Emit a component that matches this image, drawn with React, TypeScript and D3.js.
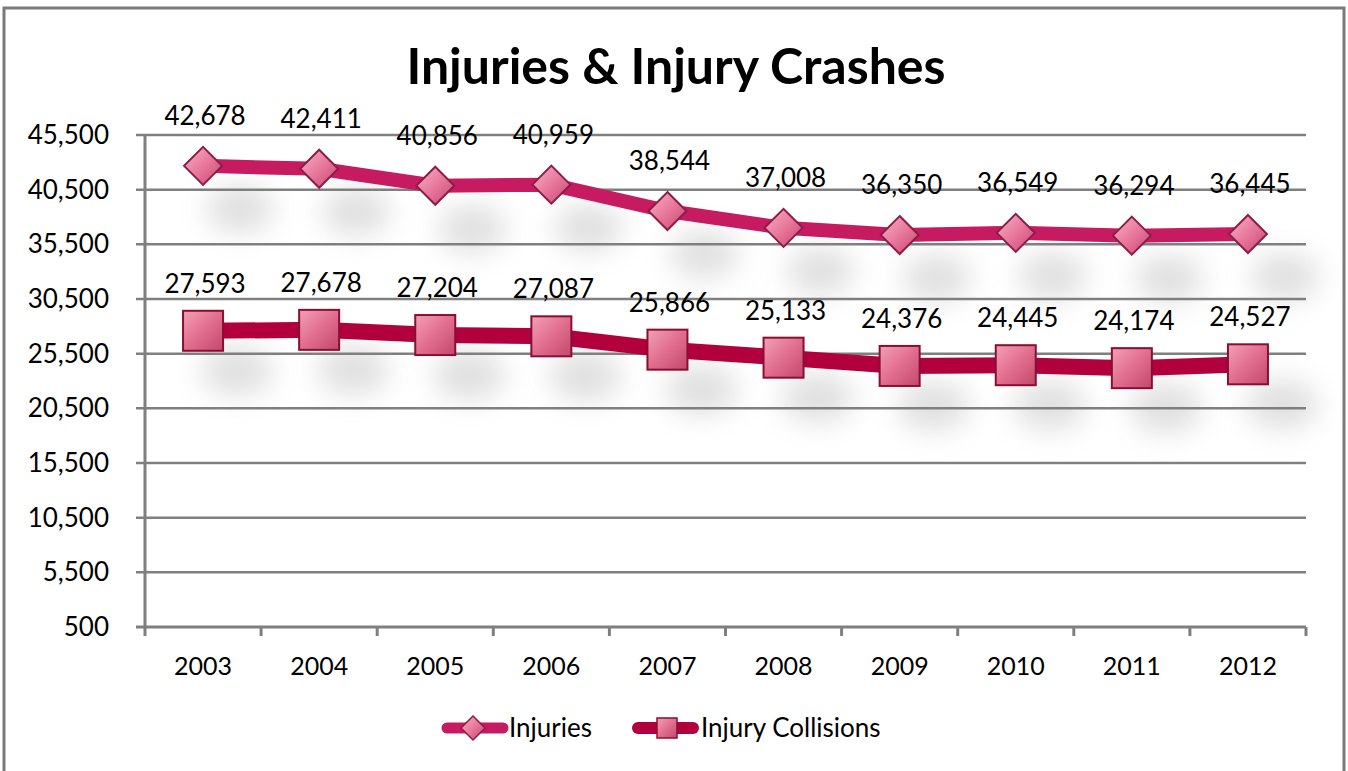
import React from "react";
import * as d3 from "d3";

const years = ["2003", "2004", "2005", "2006", "2007", "2008", "2009", "2010", "2011", "2012"];
const injuries = [42678, 42411, 40856, 40959, 38544, 37008, 36350, 36549, 36294, 36445];
const collisions = [27593, 27678, 27204, 27087, 25866, 25133, 24376, 24445, 24174, 24527];
const yTicks = [500, 5500, 10500, 15500, 20500, 25500, 30500, 35500, 40500, 45500];
const seriesNames = ["Injuries", "Injury Collisions"];

const W = 1348, H = 771;
const FONT = "Lato, 'Open Sans', sans-serif";

export default function App() {
  const x = d3.scaleBand().domain(years).range([145, 1306]);
  const y = d3.scaleLinear().domain([500, 45500]).range([627, 135]);
  const fmt = d3.format(",");
  const line = d3.line<number>().x((_, i) => x(years[i])! + x.bandwidth() / 2).y((d) => y(d));
  const cx = (i: number) => x(years[i])! + x.bandwidth() / 2;

  const diamond = (px: number, py: number, r: number) =>
    `M${px},${py - r}L${px + r},${py}L${px},${py + r}L${px - r},${py}Z`;

  return (
    <svg width={W} height={H} style={{ position: "absolute", left: 0, top: 0, background: "#fff" }}>
      <defs>
        <linearGradient id="gd" x1="0" y1="0" x2="1" y2="1">
          <stop offset="0" stopColor="#F7B3C8" />
          <stop offset="0.5" stopColor="#E8789C" />
          <stop offset="1" stopColor="#C94471" />
        </linearGradient>
        <linearGradient id="gs" x1="0" y1="0" x2="1" y2="1">
          <stop offset="0" stopColor="#F2A0B6" />
          <stop offset="0.5" stopColor="#E16E8E" />
          <stop offset="1" stopColor="#C2486C" />
        </linearGradient>
        <filter id="blur" x="-100%" y="-100%" width="300%" height="300%">
          <feGaussianBlur stdDeviation="14" />
        </filter>
      </defs>
      <rect x={0} y={0} width={W} height={H} fill="#fff" />
      {/* outer border */}
      <path d={`M4,${H}V8H1344V${H}`} fill="none" stroke="#7a7a7a" strokeWidth={3} />

      <text x={676} y={84} textAnchor="middle" fontFamily={FONT} fontWeight={700} fontSize={50} fill="#000">
        Injuries &amp; Injury Crashes
      </text>

      {/* shadows */}
      {injuries.map((v, i) => (
        <ellipse key={"si" + i} cx={cx(i) + 37} cy={y(v) + 43} rx={34} ry={24} fill="#b0b0b0" opacity={0.4} filter="url(#blur)" />
      ))}
      {collisions.map((v, i) => (
        <ellipse key={"sc" + i} cx={cx(i) + 34} cy={y(v) + 40} rx={36} ry={25} fill="#b0b0b0" opacity={0.4} filter="url(#blur)" />
      ))}

      {/* gridlines */}
      {yTicks.map((t) => (
        <g key={t}>
          <line x1={136} x2={1306} y1={y(t)} y2={y(t)} stroke="#7f7f7f" strokeWidth={t === 500 ? 3 : 2.5} />
          <text x={109} y={y(t)} dy="0.35em" textAnchor="end" fontFamily={FONT} fontSize={26} fill="#000">
            {fmt(t)}
          </text>
        </g>
      ))}
      {/* y axis */}
      <line x1={145} x2={145} y1={135} y2={636} stroke="#7f7f7f" strokeWidth={3} />
      {/* x ticks */}
      {years.map((yr, i) => (
        <g key={yr}>
          <line x1={x(yr)! + x.bandwidth()} x2={x(yr)! + x.bandwidth()} y1={627} y2={636} stroke="#7f7f7f" strokeWidth={3} />
          <text x={cx(i)} y={666} dy="0.35em" textAnchor="middle" fontFamily={FONT} fontSize={25} fill="#000">
            {yr}
          </text>
        </g>
      ))}

      {/* lines */}
      <path d={line(injuries)!} fill="none" stroke="#C61B60" strokeWidth={14} strokeLinejoin="round" />
      <path d={line(collisions)!} fill="none" stroke="#B2003D" strokeWidth={16} strokeLinejoin="round" />

      {/* markers */}
      {injuries.map((v, i) => (
        <path key={"mi" + i} d={diamond(cx(i), y(v), 19)} fill="url(#gd)" stroke="#8E1D45" strokeWidth={2} />
      ))}
      {collisions.map((v, i) => (
        <rect key={"mc" + i} x={cx(i) - 20} y={y(v) - 20} width={40} height={40} fill="url(#gs)" stroke="#8A0E33" strokeWidth={2} />
      ))}

      {/* data labels */}
      {injuries.map((v, i) => (
        <text key={"li" + i} x={cx(i) + 2} y={y(v) - 50} dy="0.35em" textAnchor="middle" fontFamily={FONT} fontSize={26} fill="#000">
          {fmt(v)}
        </text>
      ))}
      {collisions.map((v, i) => (
        <text key={"lc" + i} x={cx(i) + 2} y={y(v) - 47} dy="0.35em" textAnchor="middle" fontFamily={FONT} fontSize={26} fill="#000">
          {fmt(v)}
        </text>
      ))}

      {/* legend */}
      <g>
        <line x1={447} x2={503} y1={728} y2={728} stroke="#C61B60" strokeWidth={11} strokeLinecap="round" />
        <path d={diamond(473, 728, 12)} fill="url(#gd)" stroke="#8E1D45" strokeWidth={1.5} />
        <text x={509} y={728} dy="0.35em" fontFamily={FONT} fontSize={26} fill="#000">{seriesNames[0]}</text>
        <line x1={638} x2={693} y1={728} y2={728} stroke="#B2003D" strokeWidth={12} strokeLinecap="round" />
        <rect x={657} y={718} width={20} height={20} fill="url(#gs)" stroke="#8A0E33" strokeWidth={1.5} />
        <text x={701} y={728} dy="0.35em" fontFamily={FONT} fontSize={26} fill="#000">{seriesNames[1]}</text>
      </g>
    </svg>
  );
}
